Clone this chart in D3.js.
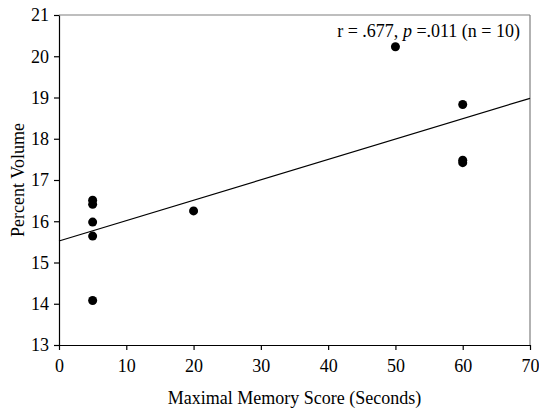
<!DOCTYPE html>
<html>
<head>
<meta charset="utf-8">
<script src="https://cdn.jsdelivr.net/npm/d3@7"></script>
<style>
  body { margin: 0; background: #fff; }
  text { font-family: "Liberation Serif", "Times New Roman", serif; }
</style>
</head>
<body>
<div id="chart-area"></div>
<script>
// memory score (seconds) and percent volume
const memoryScore = [5, 5, 5, 5, 5, 20, 50, 60, 60, 60];
const percentVolume = [16.51, 16.41, 15.98, 15.64, 14.08, 16.25, 20.23, 18.83, 17.48, 17.42];
// fitted line ends at x = 0 and x = 70
const fitX = [0, 70];
const fitY = [15.52, 18.98];
const xTicks = [0, 10, 20, 30, 40, 50, 60, 70];
const yTicks = [13, 14, 15, 16, 17, 18, 19, 20, 21];

const width = 539, height = 408;
const margin = {left: 59, right: 9, top: 15, bottom: 63};
const fontSize = 18;

const svg = d3.select("#chart-area").append("svg")
    .attr("width", width)
    .attr("height", height)

const x = d3.scaleLinear().domain([0, 70]).range([margin.left, width - margin.right])
const y = d3.scaleLinear().domain([13, 21]).range([height - margin.bottom, margin.top])

// grey frame on top and right
svg.append("line")
    .attr("x1", x(0)).attr("x2", x(70))
    .attr("y1", y(21)).attr("y2", y(21))
    .attr("stroke", "#7f7f7f").attr("stroke-width", 1.2)
svg.append("line")
    .attr("x1", x(70)).attr("x2", x(70))
    .attr("y1", y(21)).attr("y2", y(13))
    .attr("stroke", "#7f7f7f").attr("stroke-width", 1.2)

const xAxis = svg.append("g")
    .attr("transform", `translate(0,${y(13)})`)
    .call(d3.axisBottom(x).tickValues(xTicks).tickSize(5).tickPadding(9).tickSizeOuter(0))
const yAxis = svg.append("g")
    .attr("transform", `translate(${x(0)},0)`)
    .call(d3.axisLeft(y).tickValues(yTicks).tickSize(5).tickPadding(5).tickSizeOuter(0))

svg.selectAll(".tick text")
    .attr("font-family", "Liberation Serif")
    .attr("font-size", fontSize)
    .attr("fill", "#000")
svg.selectAll(".domain, .tick line").attr("stroke", "#000").attr("stroke-width", 1.2)

// regression line
svg.append("line")
    .attr("x1", x(fitX[0])).attr("y1", y(fitY[0]))
    .attr("x2", x(fitX[1])).attr("y2", y(fitY[1]))
    .attr("stroke", "#000").attr("stroke-width", 1.2)

// points
const points = memoryScore.map((d, i) => ({x: d, y: percentVolume[i]}))
svg.selectAll("circle")
    .data(points)
    .enter().append("circle")
    .attr("cx", d => x(d.x))
    .attr("cy", d => y(d.y))
    .attr("r", 4.5)
    .attr("fill", "#000")

// stats note
const note = svg.append("text")
    .attr("x", x(70) - 10)
    .attr("y", 37)
    .attr("text-anchor", "end")
    .attr("font-size", fontSize)
note.append("tspan").text("r = .677, ")
note.append("tspan").attr("font-style", "italic").text("p")
note.append("tspan").text(" =.011 (n = 10)")

// axis titles
svg.append("text")
    .attr("x", (x(0) + x(70)) / 2)
    .attr("y", 404)
    .attr("text-anchor", "middle")
    .attr("font-size", fontSize)
    .text("Maximal Memory Score (Seconds)")

svg.append("text")
    .attr("transform", `translate(24,${(y(13) + y(21)) / 2}) rotate(-90)`)
    .attr("text-anchor", "middle")
    .attr("font-size", fontSize)
    .text("Percent Volume")
</script>
</body>
</html>
